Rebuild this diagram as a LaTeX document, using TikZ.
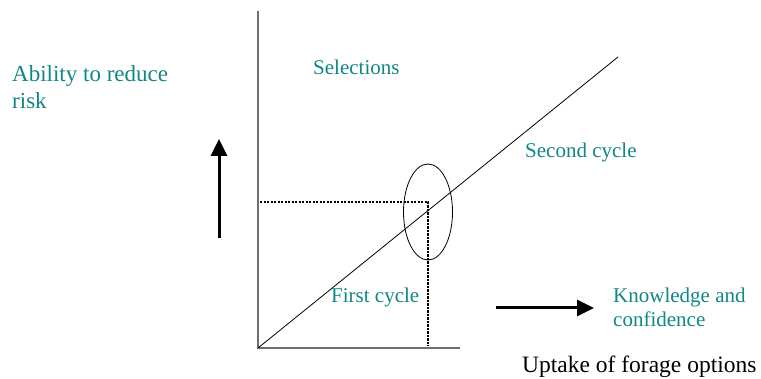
\documentclass[tikz,border=0pt]{standalone}
\usepackage{fontspec}
\setmainfont{Liberation Serif}
\usepackage{tikz}
\usetikzlibrary{arrows.meta,positioning,shapes.geometric}
\definecolor{labelteal}{RGB}{16,134,134}
\definecolor{axisgray}{RGB}{110,110,110}

\begin{document}
\begin{tikzpicture}[
        x=1pt, y=-1pt,
        lbl/.style={anchor=base west, inner sep=0pt, text=labelteal, font=\fontsize{21}{24}\selectfont, align=left},
        axis/.style={draw=axisgray, line width=1.4pt},
        guide/.style={line width=2.6pt, dash pattern=on 2.2pt off 1.3pt},
        bigarrow/.style={line width=3pt, -{Triangle[length=17pt,width=16pt]}}
    ]
    \useasboundingbox (0,0) rectangle (761,379);

    \coordinate (o) at (258,348);
    \coordinate (ytop) at (258,11);
    \coordinate (xend) at (460,348);
    \coordinate (lineend) at (618,57);
    \coordinate (hit) at (428,202);
    \coordinate (hstart) at (260,202);
    \coordinate (vend) at (428,346);

    % multi-line labels sit on the baseline of their last line
    \node[lbl, font=\fontsize{23}{27}\selectfont] (ability) at (12,109) {Ability to reduce\\risk};
    \node[lbl] (sel) at (313,75) {Selections};
    \node[lbl] (second) at (525,158) {Second cycle};
    \node[lbl] (first) at (331,303) {First cycle};
    \node[lbl] (know) at (613,327) {Knowledge and\\confidence};
    \node[lbl, text=black, font=\fontsize{23.5}{27}\selectfont] (uptake) at (522,373) {Uptake of forage options};

    \node[draw, ellipse, line width=0.8pt, minimum width=49pt, minimum height=96pt, inner sep=0pt] (focus) at (428,212) {};

    \draw[axis] (ytop) -- (o) -- (xend);
    \draw[line width=0.8pt] (o) -- (lineend);
    \draw[guide] (hstart) -- (hit) -- (vend);

    \coordinate (upa) at (219,238);
    \coordinate (upb) at (219,139);
    \coordinate (ria) at (496,308);
    \coordinate (rib) at (594,308);
    \draw[bigarrow] (upa) -- (upb);
    \draw[bigarrow] (ria) -- (rib);
\end{tikzpicture}
\end{document}
